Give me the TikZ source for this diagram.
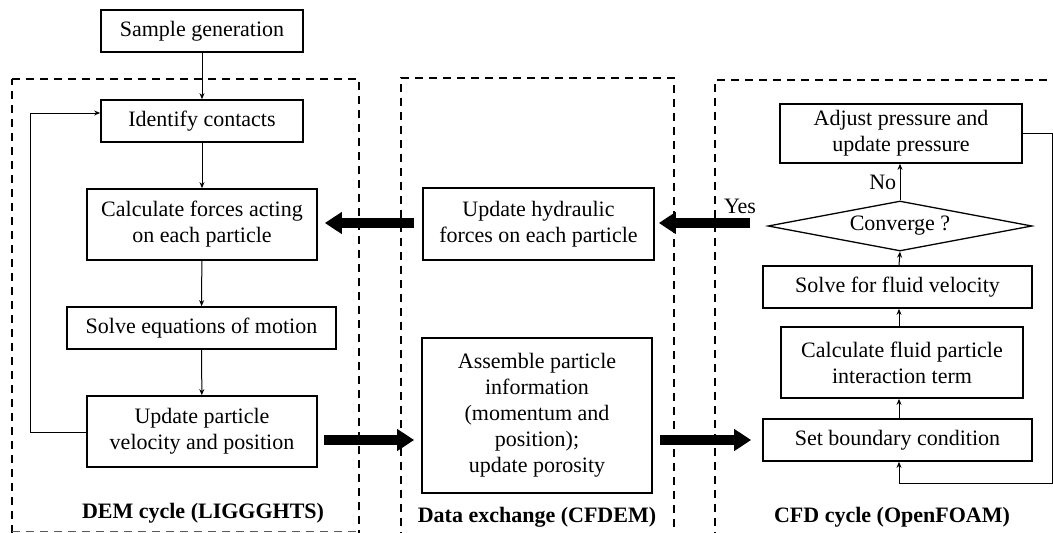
\documentclass[tikz,border=0pt]{standalone}
\usepackage{fontspec}
\setmainfont{Liberation Serif}
\usetikzlibrary{arrows.meta,shapes.geometric}
\begin{document}
\begin{tikzpicture}[x=1pt,y=-1pt,
  txt/.style={font=\fontsize{22}{26}\selectfont, align=center},
  stepbox/.style={txt, draw, line width=1.7pt, inner sep=0pt},
  cond/.style={txt, draw, diamond, line width=1.3pt, inner sep=0pt, aspect=5.3},
  flow/.style={line width=1pt, -{Stealth[length=6pt,width=5pt]}},
  link/.style={line width=1pt},
  fat/.style={line width=10pt, -{Triangle[length=17pt,width=21pt]}},
  frame/.style={line width=2pt, dash pattern=on 8pt off 6pt},
  title/.style={font=\fontsize{22}{26}\selectfont\bfseries}]
\useasboundingbox (0,0) rectangle (1053,533);
\clip (0,0) rectangle (1053,533);
\fill[white] (0,0) rectangle (1053,533);

% dashed frames of the three stages
\draw[frame] (12,79) -- (359,79) -- (359,533);
\draw[frame] (12,533) -- (12,79);
\draw[line width=1pt, dash pattern=on 8pt off 6pt, gray!70!black] (12,531) -- (359,531);
\draw[frame] (401,540) -- (401,78) -- (674,78) -- (674,540);
\draw[frame] (715,540) -- (715,80) -- (1060,80);

% DEM cycle
\node[stepbox, minimum width=202pt, minimum height=42pt] (gen) at (202,31) {Sample generation};
\node[stepbox, minimum width=202pt, minimum height=42pt] (cont) at (202,121) {Identify contacts};
\node[stepbox, minimum width=230pt, minimum height=71pt] (force) at (202,224.5) {Calculate forces acting\\on each particle};
\node[stepbox, minimum width=269pt, minimum height=42pt] (motion) at (201.5,328) {Solve equations of motion};
\node[stepbox, minimum width=230pt, minimum height=71pt] (upd) at (202,431.5) {Update particle\\velocity and position};
\node[title] (demlbl) at (203,513) {DEM cycle (LIGGGHTS)};

\draw[flow] (gen) -- (cont);
\draw[flow] (cont) -- (force);
\draw[flow] (force) -- (motion);
\draw[flow] (motion) -- (upd);
\coordinate (loopA) at (30,432);
\coordinate (loopB) at (30,113);
\draw[link] (upd.west |- 0,432) -- (loopA) -- (loopB);
\draw[flow] (loopB) -- (cont.west |- 0,113);

% Data exchange
\node[stepbox, minimum width=231pt, minimum height=72pt] (hyd) at (538.5,224) {Update hydraulic\\forces on each particle};
\node[stepbox, minimum width=230pt, minimum height=155pt] (asm) at (537,415.5) {Assemble particle\\information\\(momentum and\\position);\\update porosity};
\node[title] (dxlbl) at (537,517) {Data exchange (CFDEM)};

% CFD cycle
\node[stepbox, minimum width=242pt, minimum height=59pt] (adj) at (901,133.5) {Adjust pressure and\\update pressure};
\node[cond, minimum width=264pt, minimum height=50pt] (conv) at (900,226) {Converge ?};
\node[stepbox, minimum width=269pt, minimum height=42pt] (vel) at (897.5,287) {Solve for fluid velocity};
\node[stepbox, minimum width=242pt, minimum height=71pt] (term) at (902,362.5) {Calculate fluid particle\\interaction term};
\node[stepbox, minimum width=269pt, minimum height=42pt] (bc) at (897.5,440) {Set boundary condition};
\node[title] (cfdlbl) at (892,517) {CFD cycle (OpenFOAM)};

\draw[flow] (bc.north -| 899,0) -- (term.south -| 899,0);
\draw[flow] (term.north -| 899,0) -- (vel.south -| 899,0);
\draw[flow] (vel.north -| 899,0) -- (conv.south);
\draw[flow] (conv.north) -- (adj.south -| conv.north) node[txt, pos=0.5, left=0pt] (nolbl) {No};
\coordinate (backA) at (1052,133);
\coordinate (backB) at (1052,483);
\coordinate (backC) at (899,483);
\draw[link] (adj.east |- 0,133) -- (backA) -- (backB) -- (backC);
\draw[flow] (backC) -- (bc.south -| backC);
\node[txt, anchor=base] (yeslbl) at (740,213) {Yes};

% coupling arrows between the stages
\coordinate (cfdout) at (750,223);
\draw[fat] (cfdout) -- ([xshift=4pt]hyd.east |- cfdout);
\draw[fat] ([xshift=-8pt]hyd.west |- 0,223) -- ([xshift=7pt]force.east |- 0,223);
\draw[fat] ([xshift=6pt]upd.east |- 0,440) -- ([xshift=-7pt]asm.west |- 0,440);
\draw[fat] ([xshift=7pt]asm.east |- 0,440) -- ([xshift=-11pt]bc.west |- 0,440);
\end{tikzpicture}
\end{document}
